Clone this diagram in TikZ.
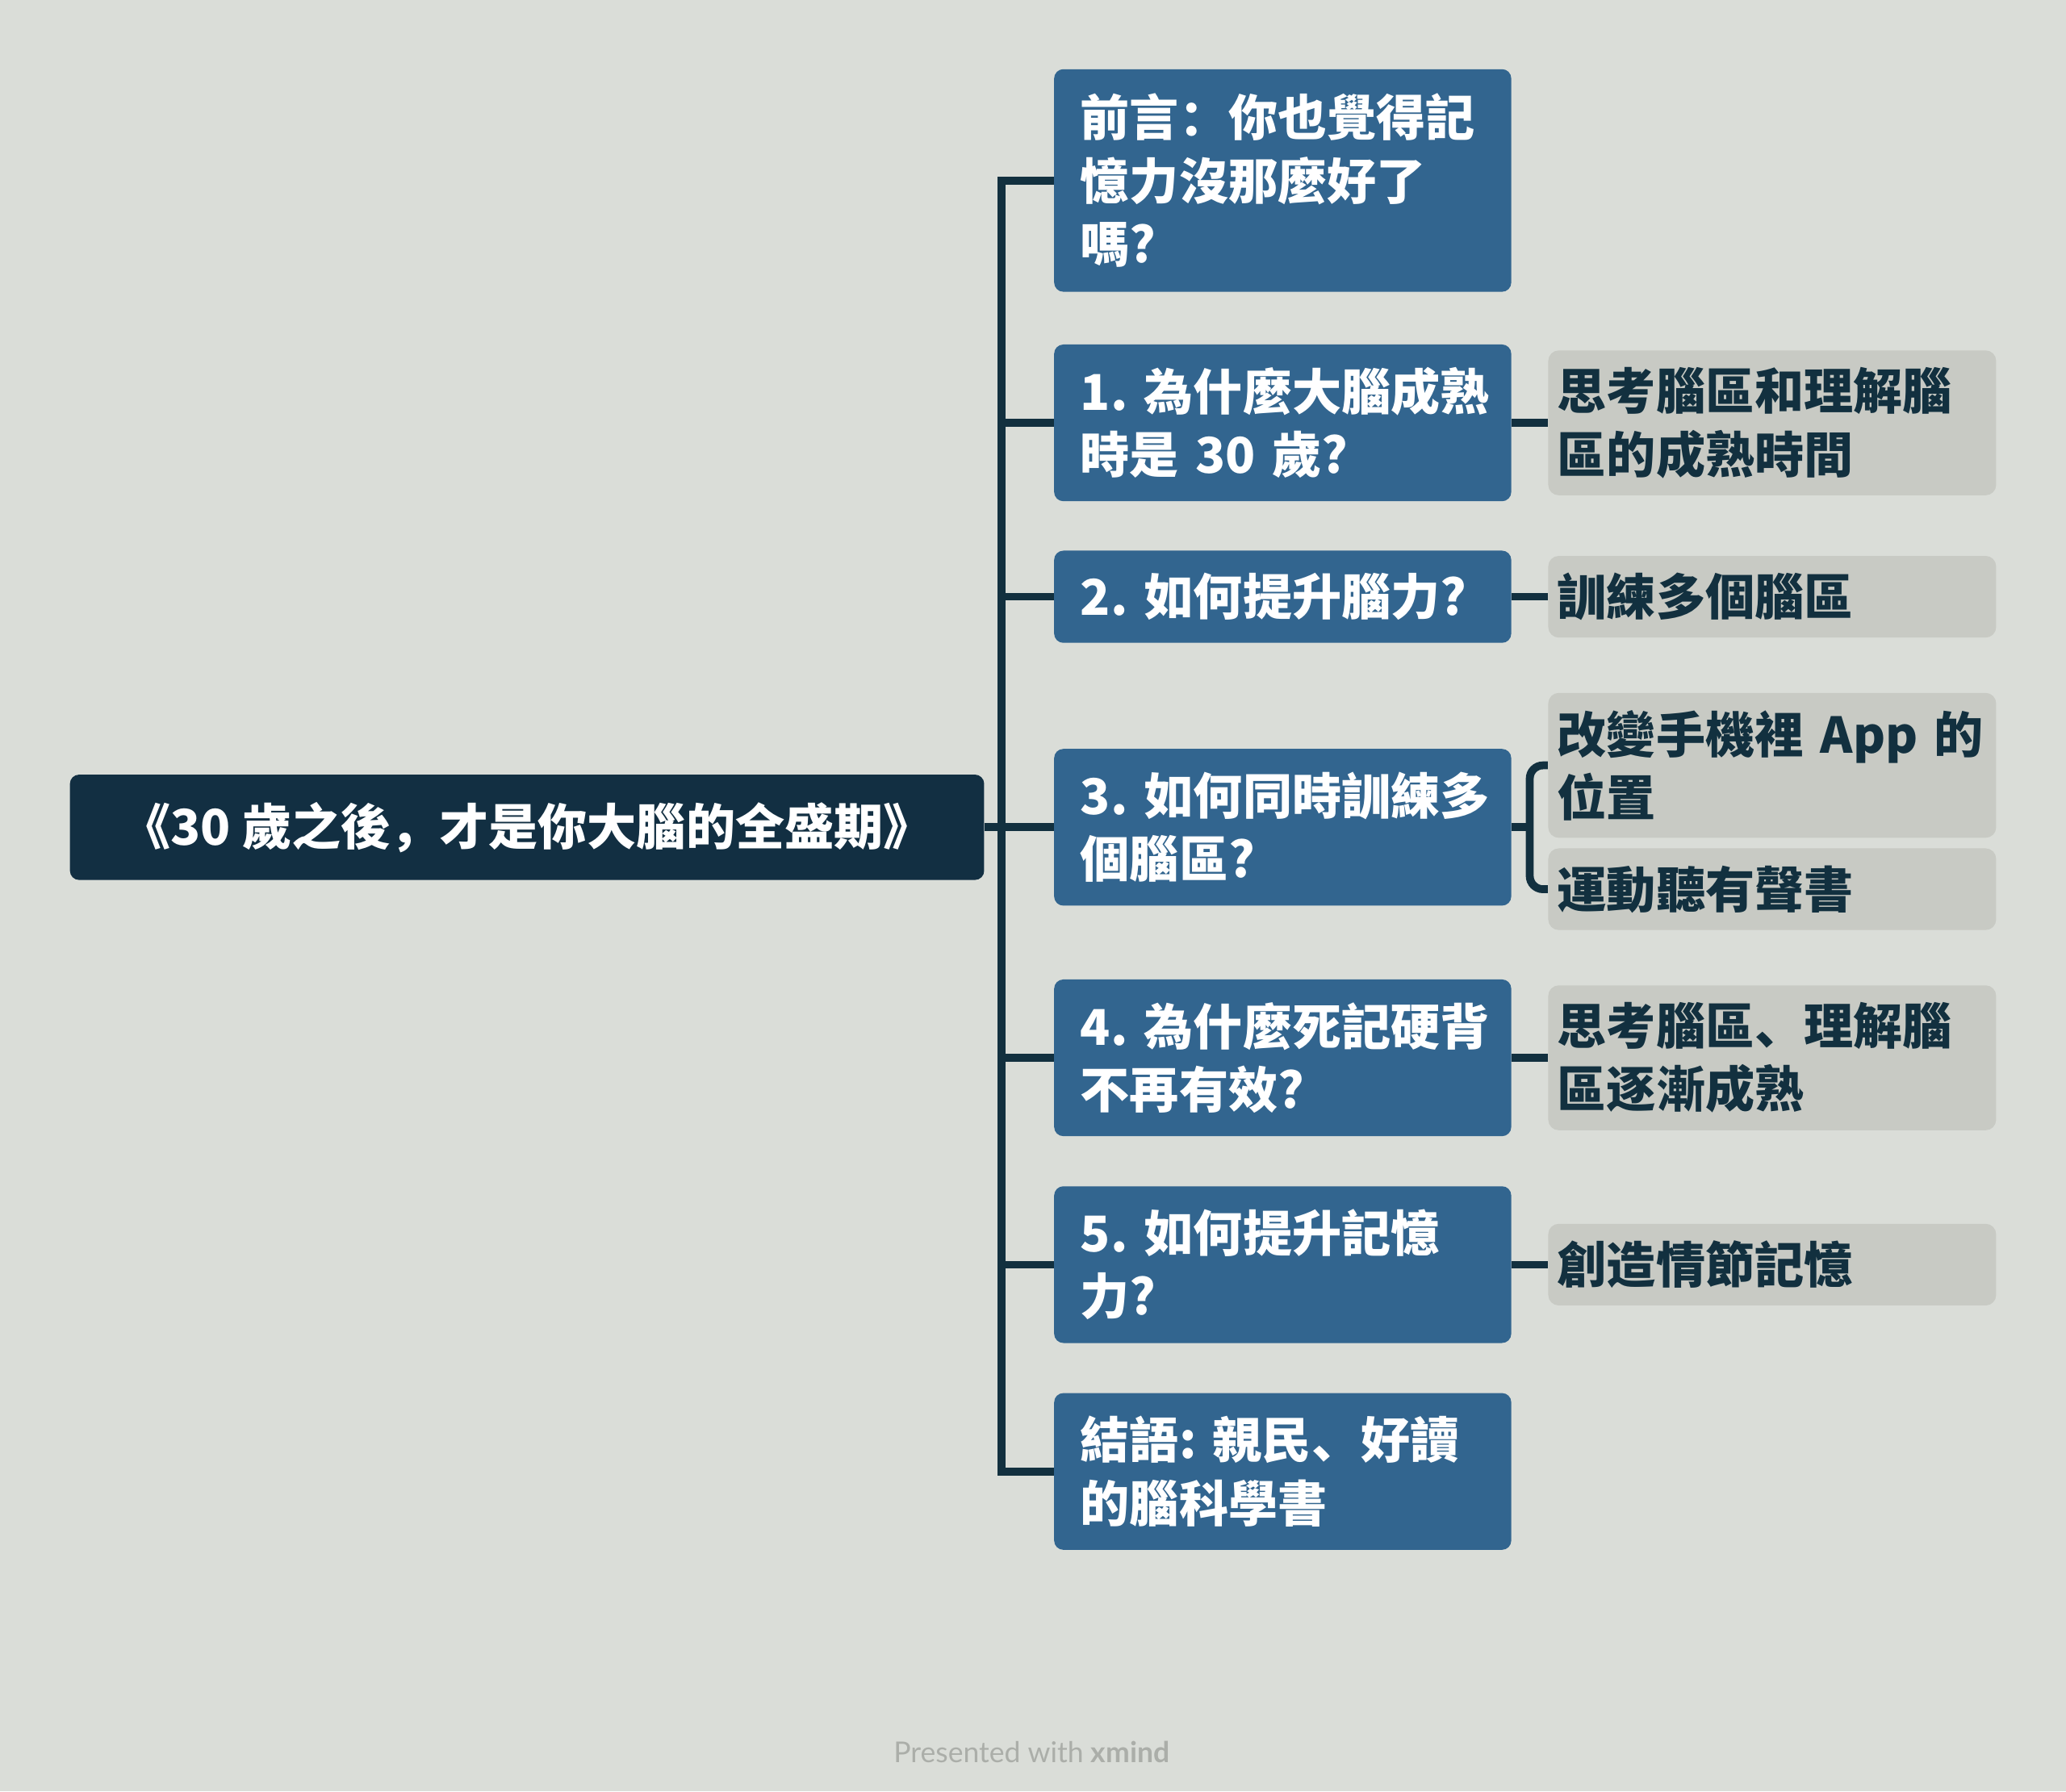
\documentclass[tikz,border=0pt]{standalone}
\usepackage{fontspec}
\setmainfont{Noto Sans CJK SC}
\newfontfamily\footfont{Lato}
\usetikzlibrary{positioning}
\definecolor{bgpaper}{HTML}{DADDD8}
\definecolor{rootnavy}{HTML}{122F42}
\definecolor{topicblue}{HTML}{32658F}
\definecolor{subgray}{HTML}{C8CAC4}
\definecolor{linenavy}{HTML}{12303F}
\definecolor{footgray}{HTML}{ABAEA9}
\tikzset{
  mapfont/.style={font=\fontsize{21.3pt}{27.3pt}\selectfont\bfseries},
  rootbox/.style={rectangle, rounded corners=0.14cm, fill=rootnavy, text=white, mapfont, minimum width=13.88cm, minimum height=1.6cm, inner sep=0pt},
  topicbox/.style={rectangle, rounded corners=0.14cm, fill=topicblue, text=white, mapfont, align=left, text width=6.14cm, inner xsep=0.4cm, inner ysep=0pt, minimum height=#1},
  topicbox/.default=2.38cm,
  subbox/.style={rectangle, rounded corners=0.16cm, fill=subgray, text=linenavy, mapfont, align=left, text width=6.52cm, inner xsep=0.14cm, inner ysep=0pt, minimum height=#1},
  subbox/.default=1.24cm,
  branch/.style={draw=linenavy, line width=3.4pt},
}

\begin{document}
\begin{tikzpicture}[x=0.02cm, y=-0.02cm]
  \fill[bgpaper] (0,0) rectangle (1568,1360);

  \node[rootbox] (root) at (400,628) {《30~歲之後，才是你大腦的全盛期》};

  \node[topicbox=3.38cm] (n0) at (973.5,137) {前言：你也覺得記\\憶力沒那麼好了\\嗎?};
  \node[topicbox] (n1) at (973.5,321) {1.~為什麼大腦成熟\\時是~30~歲?};
  \node[topicbox=1.4cm] (n2) at (973.5,453) {2.~如何提升腦力?};
  \node[topicbox] (n3) at (973.5,628) {3.~如何同時訓練多\\個腦區?};
  \node[topicbox] (n4) at (973.5,803) {4.~為什麼死記硬背\\不再有效?};
  \node[topicbox] (n5) at (973.5,960) {5.~如何提升記憶\\力?};
  \node[topicbox] (n6) at (973.5,1117) {結語:~親民、好讀\\的腦科學書};

  \node[subbox=2.2cm] (g1) at (1345,321) {思考腦區和理解腦\\區的成熟時間};
  \node[subbox] (g2) at (1345,453) {訓練多個腦區};
  \node[subbox=2.2cm] (g3a) at (1345,581) {改變手機裡~App~的\\位置};
  \node[subbox] (g3b) at (1345,675) {運動聽有聲書};
  \node[subbox=2.2cm] (g4) at (1345,803) {思考腦區、理解腦\\區逐漸成熟};
  \node[subbox] (g5) at (1345,960) {創造情節記憶};

  \coordinate (trunk) at (760,628);
  \coordinate (fork) at (1161,628);
  \draw[branch] (root.east) -- (trunk);
  \foreach \n in {n0,n1,n2,n3,n4,n5,n6}
    \draw[branch] (trunk) |- (\n.west);
  \draw[branch] (n1.east) -- (g1.west);
  \draw[branch] (n2.east) -- (g2.west);
  \draw[branch] (n3.east) -- (fork);
  \draw[branch, rounded corners=0.2cm] (g3a.west) -| (fork) |- (g3b.west);
  \draw[branch] (n4.east) -- (g4.west);
  \draw[branch] (n5.east) -- (g5.west);

  \node[font=\footfont\fontsize{12.4pt}{15pt}\selectfont, text=footgray] (credit) at (783,1330) {Presented with \textbf{xmind}};
\end{tikzpicture}
\end{document}
